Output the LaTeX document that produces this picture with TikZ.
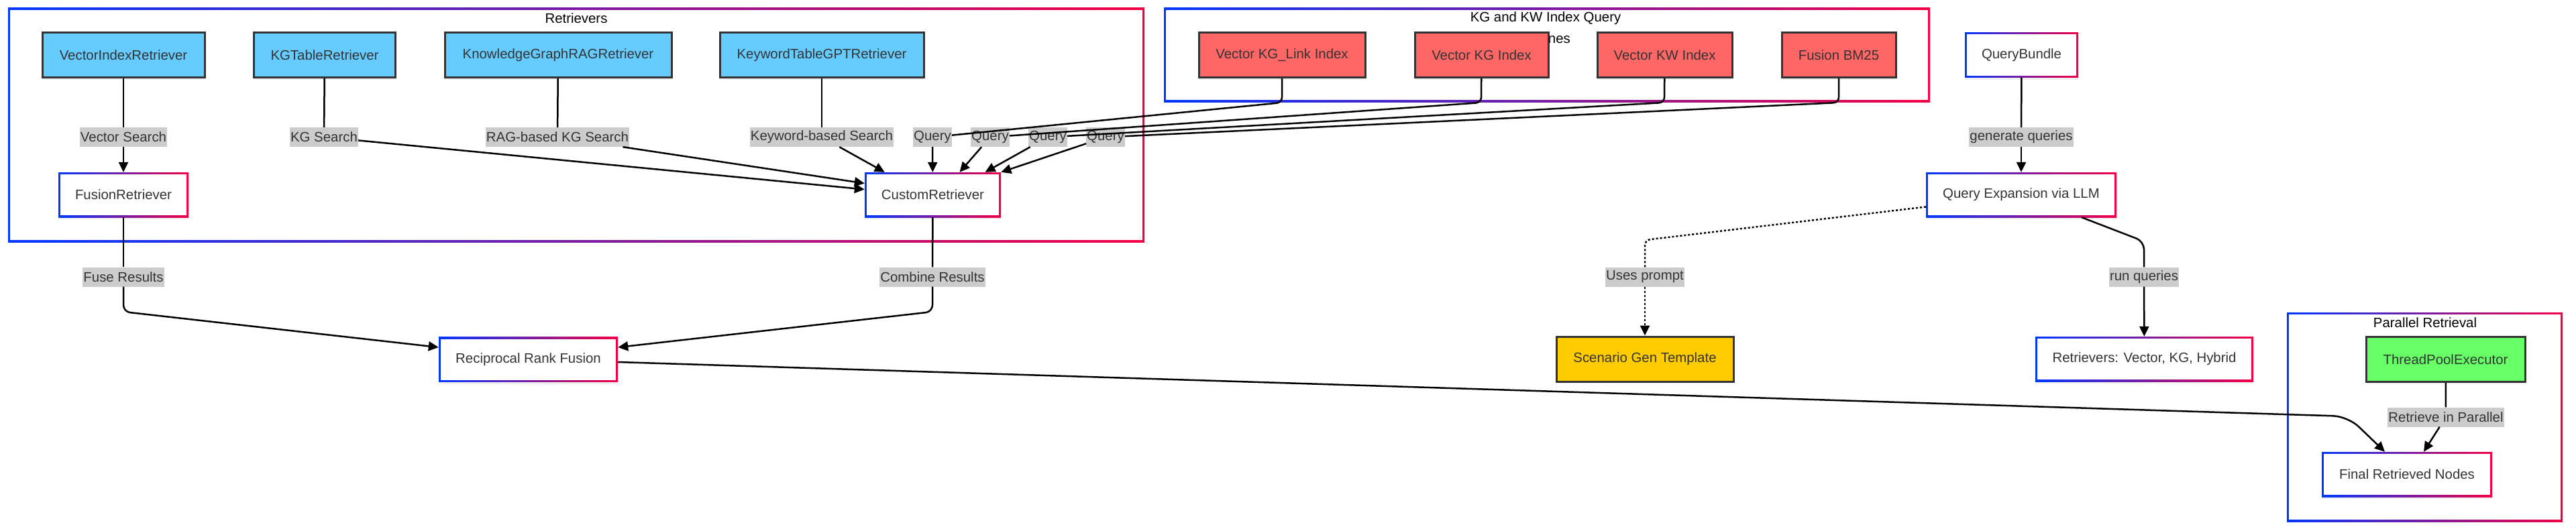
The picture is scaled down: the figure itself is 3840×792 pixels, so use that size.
\documentclass[tikz,border=0pt]{standalone}
\usepackage{fontspec}
\setmainfont{Liberation Sans}
\usetikzlibrary{arrows.meta,shadows}
\definecolor{bfill}{HTML}{66CCFF}
\definecolor{rfill}{HTML}{FF6666}
\definecolor{gfill}{HTML}{66FF66}
\definecolor{yfill}{HTML}{FFCC00}
\definecolor{bord}{HTML}{333333}
\definecolor{txt}{HTML}{333333}
\definecolor{lgray}{HTML}{CCCCCC}
\definecolor{gblue}{HTML}{0038FF}
\definecolor{gred}{HTML}{F50046}
\newcommand\nf{\fontsize{20.4pt}{24pt}\selectfont}
\tikzset{
  shad/.style={drop shadow={shadow xshift=0pt,shadow yshift=-3pt,opacity=0.12}},
  gradbox/.style={rectangle, inner sep=0pt, text=txt, font=\nf,
    path picture={
      \shade[left color=gblue, right color=gred] (path picture bounding box.south west) rectangle (path picture bounding box.north east);
      \fill[white] ([xshift=3pt,yshift=3pt]path picture bounding box.south west) rectangle ([xshift=-3pt,yshift=-3pt]path picture bounding box.north east);
    }},
  gnode/.style={gradbox, shad, minimum height=67pt},
  solid/.style={rectangle, draw=bord, line width=3pt, text=txt, font=\nf, minimum height=67pt, inner sep=0pt, shad},
  ttl/.style={font=\nf, text=black, inner sep=0pt},
  lbl/.style={fill=lgray, text=txt, font=\nf, inner xsep=1pt, inner ysep=0pt, minimum height=29pt},
  conn/.style={line width=2.5pt, draw=black},
  conna/.style={conn, -{Triangle[length=15pt,width=14pt]}},
  dotline/.style={dash pattern=on 3pt off 3pt},
}
\begin{document}
\begin{tikzpicture}[x=1pt,y=-1pt]
\useasboundingbox (0,0) rectangle (3840,792);
\fill[white] (0,0) rectangle (3840,792);
% clusters
\node[gradbox, minimum width=1694pt, minimum height=349pt] (cret) at (859,186.5) {};
\node[ttl] (tret) at (859,27) {Retrievers};
\node[gradbox, minimum width=1142pt, minimum height=140pt] (ckg) at (2306,82) {};
\node[ttl] (tkg1) at (2304,27) {KG and KW Index Query};
\node[ttl] (tkg2) at (2304,59) {Engines};
\node[gradbox, minimum width=411pt, minimum height=312pt] (cpar) at (3614.5,622) {};
\node[ttl] (tpar) at (3615,481) {Parallel Retrieval};
% nodes
\node[solid, fill=bfill, minimum width=242pt] (vir) at (184,82) {VectorIndexRetriever};
\node[solid, fill=bfill, minimum width=211pt] (kgt) at (484,82) {KGTableRetriever};
\node[solid, fill=bfill, minimum width=338pt] (kgr) at (832,82) {KnowledgeGraphRAGRetriever};
\node[solid, fill=bfill, minimum width=304pt] (kwt) at (1225,82) {KeywordTableGPTRetriever};
\node[solid, fill=rfill, minimum width=248pt] (vkl) at (1911,82) {Vector KG\_Link Index};
\node[solid, fill=rfill, minimum width=199pt] (vkg) at (2208.5,82) {Vector KG Index};
\node[solid, fill=rfill, minimum width=201pt] (vkw) at (2481.5,82) {Vector KW Index};
\node[solid, fill=rfill, minimum width=170pt] (bm) at (2741,82) {Fusion BM25};
\node[gnode, minimum width=169pt] (qb) at (3013.5,82) {QueryBundle};
\node[gnode, minimum width=194pt] (fr) at (184,290.5) {FusionRetriever};
\node[gnode, minimum width=203pt] (cr) at (1390.5,290.5) {CustomRetriever};
\node[gnode, minimum width=284pt] (qe) at (3013,290.5) {Query Expansion via LLM};
\node[gnode, minimum width=267pt] (rrf) at (787.5,536) {Reciprocal Rank Fusion};
\node[solid, fill=yfill, minimum width=264pt] (sg) at (2452,535.5) {Scenario Gen Template};
\node[gnode, minimum width=325pt] (rv) at (3196.5,535.5) {Retrievers: Vector, KG, Hybrid};
\node[solid, fill=gfill, minimum width=237pt] (tpe) at (3645.5,536) {ThreadPoolExecutor};
\node[gnode, minimum width=254pt] (fin) at (3588,707.5) {Final Retrieved Nodes};
% labels
\node[lbl] (l1) at (184,204.5) {Vector Search};
\node[lbl] (l2) at (483,204.5) {KG Search};
\node[lbl] (l3) at (831,204.5) {RAG-based KG Search};
\node[lbl] (l4) at (1225,204.5) {Keyword-based Search};
\node[lbl] (q1) at (1390,204.5) {Query};
\node[lbl] (q2) at (1476,204.5) {Query};
\node[lbl] (q3) at (1562,204.5) {Query};
\node[lbl] (q4) at (1648,204.5) {Query};
\node[lbl] (lfu) at (184,413) {Fuse Results};
\node[lbl] (lco) at (1390,413) {Combine Results};
\node[lbl] (lgq) at (3013,204.5) {generate queries};
\node[lbl] (lup) at (2452,413) {Uses prompt};
\node[lbl] (lrq) at (3196,413) {run queries};
\node[lbl] (lrp) at (3646,622) {Retrieve in Parallel};
% bend coordinates
\coordinate (k1) at (1911,153);
\coordinate (k2) at (2208,153);
\coordinate (k3) at (2481,153);
\coordinate (k4) at (2741,153);
\coordinate (b1) at (184,465);
\coordinate (b2) at (1390,465);
\coordinate (b3) at (3500,621);
\coordinate (b4) at (2452,358);
\coordinate (b5) at (3196,360);
% edges
\draw[conn] (vir) -- (l1); \draw[conna] (l1) -- (fr);
\draw[conn] (kgt) -- (l2); \draw[conna] (l2) -- ([yshift=8pt]cr.west);
\draw[conn] (kgr) -- (l3); \draw[conna] (l3) -- ([yshift=17pt]cr.west);
\draw[conn] (kwt) -- (l4); \draw[conna] (l4) -- ([xshift=30pt]cr.north west);
\draw[conn, rounded corners=8pt] (vkl) -- (k1) -- (q1);
\draw[conn, rounded corners=8pt] (vkg) -- (k2) -- (q2);
\draw[conn, rounded corners=8pt] (vkw) -- (k3) -- (q3);
\draw[conn, rounded corners=8pt] (bm) -- (k4) -- (q4);
\draw[conna] (q1) -- (cr);
\draw[conna] (q2) -- ([xshift=40pt]cr.north);
\draw[conna] (q3) -- ([xshift=78pt]cr.north);
\draw[conna] (q4) -- (cr.north east);
\draw[conn] (fr) -- (lfu);
\draw[conna, rounded corners=10pt] (lfu) -- (b1) -- ([yshift=18pt]rrf.west);
\draw[conn] (cr) -- (lco);
\draw[conna, rounded corners=10pt] (lco) -- (b2) -- ([yshift=18pt]rrf.east);
\draw[conna, rounded corners=22pt] ([yshift=-4pt]rrf.east) -- (b3) -- ([xshift=-33pt]fin.north);
\draw[conn] (qb) -- (lgq); \draw[conna] (lgq) -- (qe);
\draw[conn, dotline, rounded corners=8pt] ([yshift=-18pt]qe.west) -- (b4) -- (lup);
\draw[conna, dotline] (lup) -- (sg);
\draw[conn, rounded corners=12pt] ([xshift=90pt]qe.south) -- (b5) -- (lrq);
\draw[conna] (lrq) -- (rv);
\draw[conn] (tpe) -- (lrp); \draw[conna] (lrp) -- ([xshift=25pt]fin.north);
\end{tikzpicture}
\end{document}
